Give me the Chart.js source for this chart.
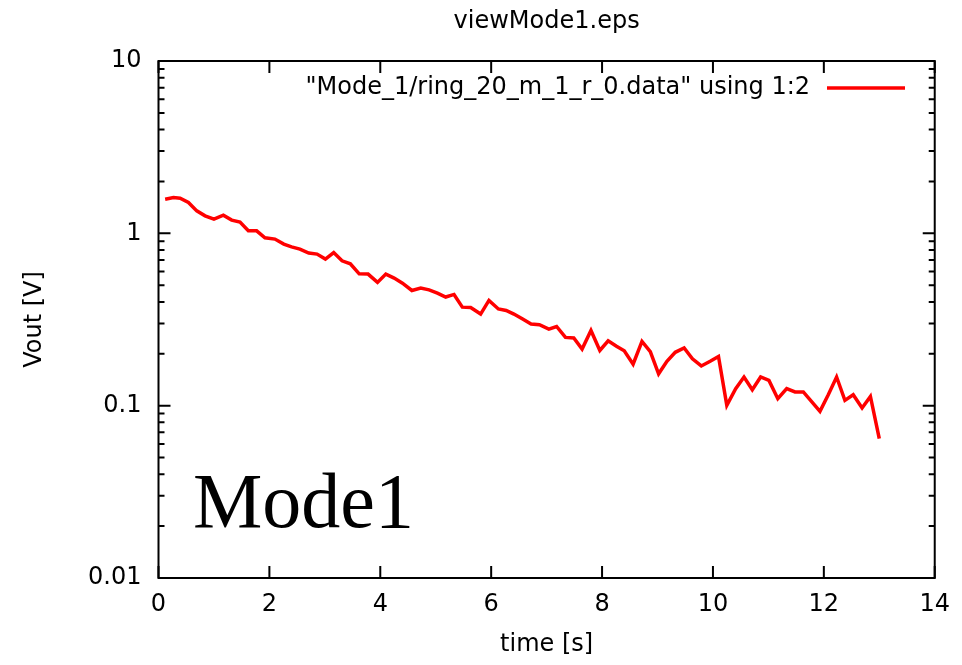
<!DOCTYPE html>
<html>
<head>
<meta charset="utf-8">
<script src="https://cdn.jsdelivr.net/npm/chart.js@4"></script>
<style>
  html, body { margin: 0; padding: 0; background: #fff; }
  canvas { display: block; }
</style>
</head>
<body>
<canvas id="myChart" width="962" height="665"></canvas>
<script>
// time [s] and Vout [V]
var time = [0.12, 0.27, 0.39, 0.54, 0.69, 0.84, 1.00, 1.17, 1.32, 1.47,
            1.62, 1.77, 1.92, 2.10, 2.26, 2.40, 2.55, 2.71, 2.86, 3.01,
            3.16, 3.31, 3.46, 3.62, 3.78, 3.95, 4.10, 4.25, 4.40, 4.57,
            4.73, 4.88, 5.03, 5.18, 5.33, 5.48, 5.63, 5.81, 5.96, 6.13,
            6.27, 6.41, 6.56, 6.72, 6.87, 7.04, 7.18, 7.34, 7.49, 7.64,
            7.80, 7.96, 8.11, 8.26, 8.40, 8.56, 8.72, 8.87, 9.02, 9.17,
            9.32, 9.48, 9.63, 9.79, 9.95, 10.10, 10.25, 10.41, 10.56, 10.71,
            10.86, 11.01, 11.17, 11.33, 11.48, 11.63, 11.78, 11.93, 12.08, 12.23,
            12.38, 12.53, 12.69, 12.84, 13.00];
var vout = [1.578, 1.612, 1.600, 1.509, 1.350, 1.263, 1.209, 1.275, 1.193, 1.161,
            1.034, 1.034, 0.942, 0.926, 0.866, 0.835, 0.810, 0.768, 0.758, 0.709,
            0.774, 0.693, 0.666, 0.582, 0.580, 0.519, 0.580, 0.550, 0.514, 0.466,
            0.481, 0.470, 0.450, 0.427, 0.442, 0.373, 0.371, 0.340, 0.408, 0.364,
            0.357, 0.340, 0.319, 0.298, 0.295, 0.278, 0.288, 0.249, 0.247, 0.213,
            0.273, 0.209, 0.238, 0.221, 0.208, 0.174, 0.236, 0.206, 0.153, 0.181,
            0.204, 0.216, 0.187, 0.170, 0.181, 0.193, 0.1004, 0.1255, 0.1467, 0.1238,
            0.1467, 0.1402, 0.1098, 0.1255, 0.1201, 0.1201, 0.1055, 0.0927, 0.1158, 0.1467,
            0.1073, 0.1158, 0.0970, 0.1132, 0.0644];
var xTicks = [0, 2, 4, 6, 8, 10, 12, 14];
var yTicks = [0.01, 0.1, 1, 10];

var seriesLabel = '"Mode_1/ring_20_m_1_r_0.data" using 1:2';
var plotTitle = 'viewMode1.eps';
var note = 'Mode1';

var sans = '"DejaVu Sans", "Liberation Sans", Arial, sans-serif';
var fsize = 24;

var points = time.map(function (t, i) { return { x: t, y: vout[i] }; });

// gnuplot style frame: box, inward ticks on all sides, legend and label
var gnuplotFrame = {
    id: 'gnuplotFrame',
    afterDraw: function (chart) {
        var ctx = chart.ctx;
        var a = chart.chartArea;
        var xs = chart.scales.x, ys = chart.scales.y;
        ctx.save();
        ctx.strokeStyle = '#000';
        ctx.lineWidth = 2;
        ctx.strokeRect(a.left, a.top, a.right - a.left, a.bottom - a.top);

        ctx.beginPath();
        xTicks.forEach(function (v) {
            var px = xs.getPixelForValue(v);
            ctx.moveTo(px, a.bottom); ctx.lineTo(px, a.bottom - 12);
            ctx.moveTo(px, a.top); ctx.lineTo(px, a.top + 12);
        });
        for (var d = 0.01; d < 10; d *= 10) {
            for (var k = 1; k <= 10; k++) {
                var py = ys.getPixelForValue(d * k);
                var len = (k === 1 || k === 10) ? 12 : 6;
                ctx.moveTo(a.left, py); ctx.lineTo(a.left + len, py);
                ctx.moveTo(a.right, py); ctx.lineTo(a.right - len, py);
            }
        }
        ctx.stroke();

        // title
        ctx.fillStyle = '#000';
        ctx.font = fsize + 'px ' + sans;
        ctx.textAlign = 'center';
        ctx.textBaseline = 'middle';
        ctx.fillText(plotTitle, (a.left + a.right) / 2, 22);

        // legend
        ctx.textAlign = 'right';
        ctx.fillText(seriesLabel, 810, 88);
        ctx.strokeStyle = '#ff0000';
        ctx.lineWidth = 3.5;
        ctx.beginPath();
        ctx.moveTo(827, 88); ctx.lineTo(905, 88);
        ctx.stroke();

        // big label
        ctx.fillStyle = '#000';
        ctx.font = '78px "Liberation Serif", "Times New Roman", serif';
        ctx.textAlign = 'left';
        ctx.textBaseline = 'alphabetic';
        ctx.fillText(note, 193, 527);
        ctx.restore();
    }
};

var ctx = document.getElementById('myChart').getContext('2d');
var myChart = new Chart(ctx, {
    type: 'scatter',
    data: {
        datasets: [{
            data: points,
            label: seriesLabel,
            showLine: true,
            borderColor: '#ff0000',
            backgroundColor: '#ff0000',
            borderWidth: 3.5,
            pointRadius: 0,
            tension: 0
        }]
    },
    options: {
        responsive: false,
        animation: false,
        layout: { padding: { top: 61, right: 25, bottom: 0, left: 0 } },
        plugins: {
            legend: { display: false },
            title: { display: false },
            tooltip: { enabled: false }
        },
        scales: {
            x: {
                type: 'linear',
                min: 0,
                max: 14,
                afterFit: function (s) { s.height = 87; },
                afterBuildTicks: function (s) { s.ticks = xTicks.map(function (v) { return { value: v }; }); },
                grid: { display: false, drawTicks: false },
                border: { display: false },
                ticks: { color: '#000', padding: 12, font: { family: sans, size: fsize } },
                title: { display: true, text: 'time [s]', color: '#000', padding: { top: 0, bottom: 6 }, font: { family: sans, size: fsize } }
            },
            y: {
                type: 'logarithmic',
                min: 0.01,
                max: 10,
                afterFit: function (s) { s.width = 158.5; },
                afterBuildTicks: function (s) { s.ticks = yTicks.map(function (v) { return { value: v, major: true }; }); },
                grid: { display: false, drawTicks: false },
                border: { display: false },
                ticks: {
                    color: '#000', padding: 17, font: { family: sans, size: fsize },
                    callback: function (v) { return String(v); }
                },
                title: { display: true, text: 'Vout [V]', color: '#000', padding: { top: 20, bottom: 0 }, font: { family: sans, size: fsize } }
            }
        }
    },
    plugins: [gnuplotFrame]
});
</script>
</body>
</html>
